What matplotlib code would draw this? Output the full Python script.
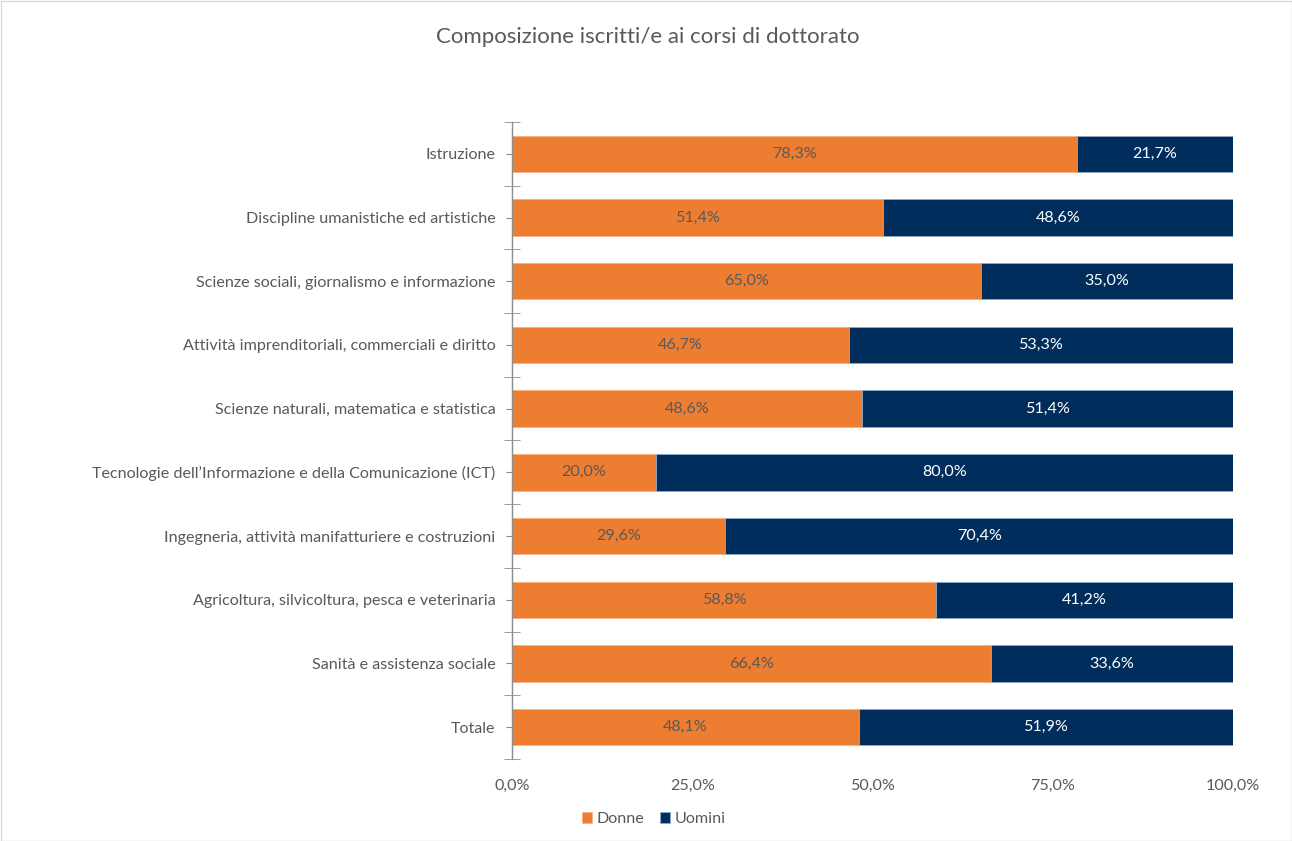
import matplotlib
matplotlib.use("Agg")
import matplotlib.pyplot as plt
from matplotlib.ticker import FixedLocator, FuncFormatter
from matplotlib.patches import Rectangle

categories = [
    "Istruzione",
    "Discipline umanistiche ed artistiche",
    "Scienze sociali, giornalismo e informazione",
    "Attività imprenditoriali, commerciali e diritto",
    "Scienze naturali, matematica e statistica",
    "Tecnologie dell\u2019Informazione e della Comunicazione (ICT)",
    "Ingegneria, attività manifatturiere e costruzioni",
    "Agricoltura, silvicoltura, pesca e veterinaria",
    "Sanità e assistenza sociale",
    "Totale",
]
donne = [78.3, 51.4, 65.0, 46.7, 48.6, 20.0, 29.6, 58.8, 66.4, 48.1]
uomini = [21.7, 48.6, 35.0, 53.3, 51.4, 80.0, 70.4, 41.2, 33.6, 51.9]
xticks = [0, 25, 50, 75, 100]

ORANGE = "#ED7D31"
NAVY = "#002D5C"
GRAY = "#595959"
FS = 11.6

plt.rcParams['font.family'] = ['Lato', 'DejaVu Sans']

fig = plt.figure(figsize=(12.92, 8.41), dpi=100)
ax = fig.add_axes([512/1292, 1-759/841, (1233-512)/1292, (759-122)/841])

n = len(categories)
y = list(range(n))
h = 0.57
ax.barh(y, donne, height=h, color=ORANGE, edgecolor="#F4B183", linewidth=0.6, label="Donne")
ax.barh(y, uomini, left=donne, height=h, color=NAVY, edgecolor="#8EA9C8", linewidth=0.6, label="Uomini")

def fmt(v):
    return f"{v:.1f}%".replace(".", ",")

for i in range(n):
    ax.text(donne[i]/2, i, fmt(donne[i]), ha="center", va="center", color=GRAY, fontsize=FS)
    ax.text(donne[i] + uomini[i]/2, i, fmt(uomini[i]), ha="center", va="center", color="white", fontsize=FS)

ax.set_xlim(0, 100)
ax.set_ylim(n - 0.5, -0.5)
ax.set_yticks(y)
ax.set_yticklabels(categories, color=GRAY, fontsize=FS)
ax.yaxis.set_minor_locator(FixedLocator([i - 0.5 for i in range(n + 1)]))
ax.tick_params(axis="y", which="major", length=4, color="#8C8C8C", pad=8)
ax.tick_params(axis="y", which="minor", length=12, color="#8C8C8C", direction="inout")
ax.set_xticks(xticks)
ax.xaxis.set_major_formatter(FuncFormatter(lambda v, p: fmt(v)))
ax.tick_params(axis="x", length=0, colors=GRAY, labelsize=FS, pad=14)
for s in ["top", "right", "bottom"]:
    ax.spines[s].set_visible(False)
ax.spines["left"].set_color("#8C8C8C")
ax.spines["left"].set_linewidth(1.0)

fig.text(648/1292, 1-37/841, "Composizione iscritti/e ai corsi di dottorato", ha="center", va="center",
         color=GRAY, fontsize=16)

leg = fig.legend(loc="center", bbox_to_anchor=(654/1292, 1-819/841), ncol=2, frameon=False,
                 fontsize=FS, handlelength=0.6, handleheight=0.7, handletextpad=0.3, columnspacing=1.0)
for t in leg.get_texts():
    t.set_color(GRAY)

fig.patches.append(Rectangle((0.5/1292, 0.5/841), 1-1/1292, 1-1/841, transform=fig.transFigure,
                             fill=False, edgecolor="#D9D9D9", linewidth=1))

fig.savefig("out.png", dpi=100)
